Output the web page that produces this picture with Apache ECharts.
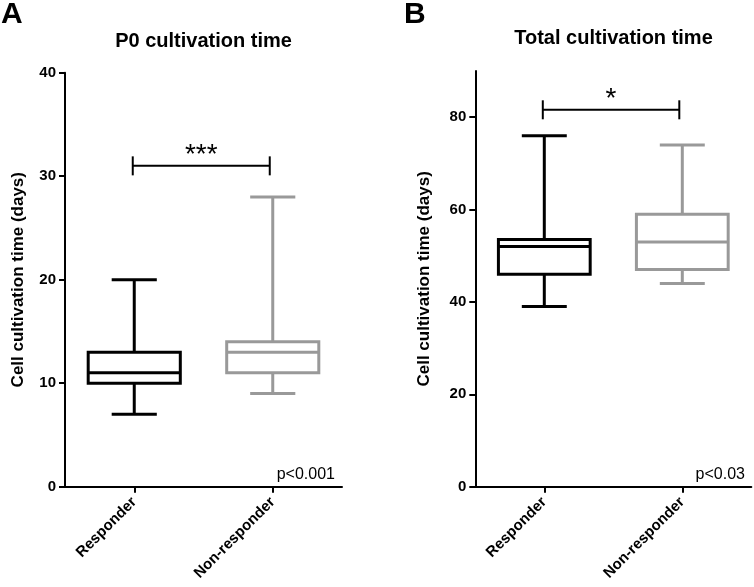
<!DOCTYPE html>
<html>
<head>
<meta charset="utf-8">
<script src="https://cdn.jsdelivr.net/npm/echarts@6/dist/echarts.min.js"></script>
<style>
html,body{margin:0;padding:0;background:#fff;}
#chart{width:754px;height:587px;}
</style>
</head>
<body>
<div id="chart"></div>
<script>
// ---- data ----
const categories = ['Responder', 'Non-responder'];
const seriesColors = ['#000000', '#999999'];

// Panel A: P0 cultivation time (days)
const p0Min = [7, 9];
const p0Q1 = [10, 11];
const p0Median = [11, 13];
const p0Q3 = [13, 14];
const p0Max = [20, 28];
const p0Ticks = [0, 10, 20, 30, 40];

// Panel B: Total cultivation time (days)
const totMin = [39, 44];
const totQ1 = [46, 47];
const totMedian = [52, 53];
const totQ3 = [53.5, 59];
const totMax = [76, 74];
const totTicks = [0, 20, 40, 60, 80];

// significance brackets
const sigLevels = [31, 81.6];
const sigLabels = ['***', '*'];
const pLabels = ['p<0.001', 'p<0.03'];
const panelTitles = ['P0 cultivation time', 'Total cultivation time'];
const panelLetters = ['A', 'B'];
const yAxisName = 'Cell cultivation time (days)';

const FONT = '"Liberation Sans", Arial, sans-serif';

function boxData(mn, q1, md, q3, mx) {
  return categories.map((c, i) => [i, mn[i], q1[i], md[i], q3[i], mx[i]]);
}

function renderBox(params, api) {
  const i = api.value(0);
  const x = api.coord([i, 0])[0];
  const band = api.size([1, 0])[0];
  const bw = band * 0.665;
  const cw = bw * 0.49;
  const yMin = api.coord([i, api.value(1)])[1];
  const yQ1 = api.coord([i, api.value(2)])[1];
  const yMd = api.coord([i, api.value(3)])[1];
  const yQ3 = api.coord([i, api.value(4)])[1];
  const yMax = api.coord([i, api.value(5)])[1];
  const color = seriesColors[params.dataIndex];
  const st = { stroke: color, lineWidth: 3, fill: null };
  return {
    type: 'group',
    children: [
      { type: 'line', shape: { x1: x, y1: yMax, x2: x, y2: yQ3 }, style: st },
      { type: 'line', shape: { x1: x, y1: yQ1, x2: x, y2: yMin }, style: st },
      { type: 'line', shape: { x1: x - cw / 2, y1: yMax, x2: x + cw / 2, y2: yMax }, style: st },
      { type: 'line', shape: { x1: x - cw / 2, y1: yMin, x2: x + cw / 2, y2: yMin }, style: st },
      { type: 'rect', shape: { x: x - bw / 2, y: yQ3, width: bw, height: yQ1 - yQ3 }, style: st },
      { type: 'line', shape: { x1: x - bw / 2, y1: yMd, x2: x + bw / 2, y2: yMd }, style: st }
    ]
  };
}

function makeBracketRender(k) {
  return function (params, api) {
    const y = api.value(1);
    const p1 = api.coord([0, y]);
    const p2 = api.coord([1, y]);
    const st = { stroke: '#000', lineWidth: 2 };
    const x1 = p1[0] - 1.5, x2 = p2[0] - 3;
    return {
      type: 'group',
      children: [
        { type: 'line', shape: { x1: x1, y1: p1[1], x2: x2, y2: p1[1] }, style: st },
        { type: 'line', shape: { x1: x1, y1: p1[1] - 9.5, x2: x1, y2: p1[1] + 9.5 }, style: st },
        { type: 'line', shape: { x1: x2, y1: p1[1] - 9.5, x2: x2, y2: p1[1] + 9.5 }, style: st },
        { type: 'text', x: (x1 + x2) / 2, y: p1[1] - 11,
          style: { text: sigLabels[k], fill: '#000', font: '28px ' + FONT, align: 'center', verticalAlign: 'middle' } }
      ]
    };
  };
}

const axisLineStyle = { lineStyle: { color: '#000', width: 2 } };
const tickLabelStyle = { color: '#000', fontSize: 15, fontWeight: 'bold', fontFamily: FONT, margin: 9 };

const chart = echarts.init(document.getElementById('chart'), null, { renderer: 'canvas' });
chart.setOption({
  backgroundColor: '#fff',
  animation: false,
  grid: [
    { left: 65, top: 72.7, width: 277, height: 414 },
    { left: 475.3, top: 71, width: 276, height: 415.7 }
  ],
  xAxis: [0, 1].map(g => ({
    type: 'category',
    gridIndex: g,
    data: categories,
    boundaryGap: true,
    axisLine: axisLineStyle,
    axisTick: { show: true, alignWithLabel: true, length: 6, lineStyle: { color: '#000', width: 2 } },
    axisLabel: { rotate: 45, color: '#000', fontSize: 15, fontWeight: 'bold', fontFamily: FONT, margin: 13, interval: 0 },
    splitLine: { show: false }
  })),
  yAxis: [
    {
      type: 'value', gridIndex: 0, min: 0, max: 40, interval: 10,
      name: yAxisName, nameLocation: 'middle', nameGap: 38,
      nameTextStyle: { color: '#000', fontSize: 17, fontWeight: 'bold', fontFamily: FONT },
      axisLine: { show: true, ...axisLineStyle },
      axisTick: { show: true, length: 6, lineStyle: { color: '#000', width: 2 } },
      axisLabel: { ...tickLabelStyle, customValues: p0Ticks },
      splitLine: { show: false }
    },
    {
      type: 'value', gridIndex: 1, min: 0, max: 90, interval: 10,
      name: yAxisName, nameLocation: 'middle', nameGap: 42,
      nameTextStyle: { color: '#000', fontSize: 17, fontWeight: 'bold', fontFamily: FONT },
      axisLine: { show: true, ...axisLineStyle },
      axisTick: { show: true, length: 6, customValues: totTicks, lineStyle: { color: '#000', width: 2 } },
      axisLabel: { ...tickLabelStyle, customValues: totTicks },
      splitLine: { show: false }
    }
  ],
  series: [
    {
      type: 'custom', xAxisIndex: 0, yAxisIndex: 0,
      data: boxData(p0Min, p0Q1, p0Median, p0Q3, p0Max),
      encode: { x: 0, y: [1, 2, 3, 4, 5] },
      renderItem: renderBox, z: 3
    },
    {
      type: 'custom', xAxisIndex: 1, yAxisIndex: 1,
      data: boxData(totMin, totQ1, totMedian, totQ3, totMax),
      encode: { x: 0, y: [1, 2, 3, 4, 5] },
      renderItem: renderBox, z: 3
    },
    {
      type: 'custom', xAxisIndex: 0, yAxisIndex: 0,
      data: [[0, sigLevels[0]]], encode: { x: 0, y: 1 },
      renderItem: makeBracketRender(0), z: 4
    },
    {
      type: 'custom', xAxisIndex: 1, yAxisIndex: 1,
      data: [[0, sigLevels[1]]], encode: { x: 0, y: 1 },
      renderItem: makeBracketRender(1), z: 4
    }
  ],
  graphic: [
    { type: 'text', x: 1, y: 15, style: { text: panelLetters[0], fill: '#000', font: 'bold 30px ' + FONT, align: 'left', verticalAlign: 'middle' } },
    { type: 'text', x: 404, y: 15, style: { text: panelLetters[1], fill: '#000', font: 'bold 30px ' + FONT, align: 'left', verticalAlign: 'middle' } },
    { type: 'text', x: 203.5, y: 41, style: { text: panelTitles[0], fill: '#000', font: 'bold 20px ' + FONT, align: 'center', verticalAlign: 'middle' } },
    { type: 'text', x: 613.5, y: 38.5, style: { text: panelTitles[1], fill: '#000', font: 'bold 20px ' + FONT, align: 'center', verticalAlign: 'middle' } },
    { type: 'text', x: 335, y: 475, style: { text: pLabels[0], fill: '#000', font: '16px ' + FONT, align: 'right', verticalAlign: 'middle' } },
    { type: 'text', x: 745, y: 475, style: { text: pLabels[1], fill: '#000', font: '16px ' + FONT, align: 'right', verticalAlign: 'middle' } }
  ]
});
</script>
</body>
</html>
